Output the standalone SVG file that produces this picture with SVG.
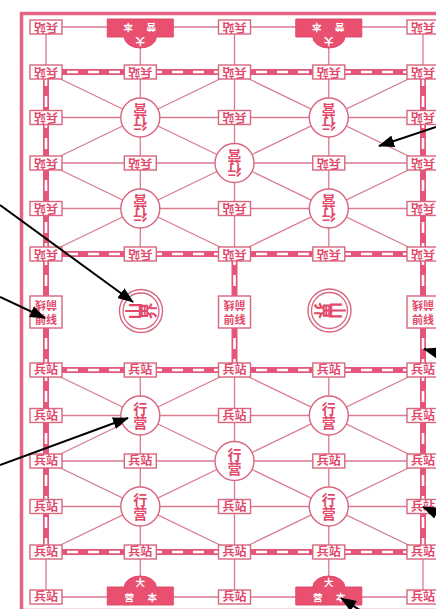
<svg xmlns="http://www.w3.org/2000/svg" width="436" height="609" viewBox="0 0 436 609">
<style>
.ln{stroke:#d97b8f;stroke-width:1.3;fill:none}
.rail{stroke:#e5557a;stroke-width:6;fill:none}
.railw{stroke:#fff;stroke-width:2.6;stroke-dasharray:11 10;fill:none}
.box{fill:#fff;stroke:#d9667f;stroke-width:1.4}
.t{fill:#e2486a;font-family:"Noto Sans CJK SC","Noto Sans CJK JP",sans-serif;font-weight:700;text-anchor:middle}
.tw{fill:#fff;font-family:"Noto Sans CJK SC","Noto Sans CJK JP",sans-serif;font-weight:700;text-anchor:middle;font-size:9.5px}
.dbk{fill:#e9506f;stroke:#e14a6a;stroke-width:1}
.arr{stroke:#000;stroke-width:2;fill:none}
</style>
<defs>
<g id="bz"><rect class="box" x="-16" y="-7" width="32" height="14"/><text class="t" x="0" y="4.3" font-size="12">兵站</text></g>
<g id="xy"><circle class="box" r="19.5"/><text class="t" x="0" y="-1.5" font-size="14">行</text><text class="t" x="0" y="12.5" font-size="14">营</text></g>
<g id="dbky"><path class="dbk" d="M-33 8V-10H-16A16 11 0 0 1 16 -10H33V8Z"/><text class="tw" x="0" y="-11">大</text><text class="tw" x="-11" y="3.5">营</text><text class="tw" x="12" y="3.5">本</text></g>
<g id="qx"><rect class="box" x="-16" y="-16" width="32" height="32"/><text class="t" x="0" y="11.5" font-size="11">前线</text><text class="t" x="0" y="11.5" font-size="11" transform="rotate(180)">前线</text></g>
<marker id="ah" viewBox="0 0 16 12" refX="15" refY="6" markerWidth="16" markerHeight="12" markerUnits="userSpaceOnUse" orient="auto"><path d="M0 0L16 6L0 12Z" fill="#000"/></marker>
</defs>
<rect width="436" height="609" fill="#fff"/>
<rect x="21.5" y="13.5" width="440" height="597" fill="none" stroke="#e36583" stroke-width="3.5"/>
<g id="connectors">
<path class="ln" d="M46 415.5H423M46 461H423M46 506.5H423M46 597H423M140.3 370V597M234.5 370V597M328.8 370V597M46 552V597M423 552V597M46 370L423 552M423 370L46 552M234.5 370L46 461M234.5 370L423 461M46 461L234.5 552M423 461L234.5 552"/>
<path class="ln" d="M46 208.5H423M46 163H423M46 117.5H423M46 27H423M140.3 254V27M234.5 254V27M328.8 254V27M46 72V27M423 72V27M46 254L423 72M423 254L46 72M234.5 254L46 163M234.5 254L423 163M46 163L234.5 72M423 163L234.5 72"/>
<path class="rail" d="M46 370H423M46 552H423M46 370V552M423 370V552M46 254H423M46 72H423M46 254V72M423 254V72M46 254V370M234.5 254V370M423 254V370"/>
<path class="railw" d="M46 370H423M46 552H423M46 370V552M423 370V552M46 254H423M46 72H423M46 254V72M423 254V72M46 254V370M234.5 254V370M423 254V370"/>
</g>
<g id="nodes">
<g id="l0-0" transform="translate(46 370)"><use href="#bz"/></g>
<g id="l0-1" transform="translate(140.3 370)"><use href="#bz"/></g>
<g id="l0-2" transform="translate(234.5 370)"><use href="#bz"/></g>
<g id="l0-3" transform="translate(328.8 370)"><use href="#bz"/></g>
<g id="l0-4" transform="translate(423 370)"><use href="#bz"/></g>
<g id="l1-0" transform="translate(46 415.5)"><use href="#bz"/></g>
<g id="l1-1" transform="translate(140.3 415.5)"><use href="#xy"/></g>
<g id="l1-2" transform="translate(234.5 415.5)"><use href="#bz"/></g>
<g id="l1-3" transform="translate(328.8 415.5)"><use href="#xy"/></g>
<g id="l1-4" transform="translate(423 415.5)"><use href="#bz"/></g>
<g id="l2-0" transform="translate(46 461)"><use href="#bz"/></g>
<g id="l2-1" transform="translate(140.3 461)"><use href="#bz"/></g>
<g id="l2-2" transform="translate(234.5 461)"><use href="#xy"/></g>
<g id="l2-3" transform="translate(328.8 461)"><use href="#bz"/></g>
<g id="l2-4" transform="translate(423 461)"><use href="#bz"/></g>
<g id="l3-0" transform="translate(46 506.5)"><use href="#bz"/></g>
<g id="l3-1" transform="translate(140.3 506.5)"><use href="#xy"/></g>
<g id="l3-2" transform="translate(234.5 506.5)"><use href="#bz"/></g>
<g id="l3-3" transform="translate(328.8 506.5)"><use href="#xy"/></g>
<g id="l3-4" transform="translate(423 506.5)"><use href="#bz"/></g>
<g id="l4-0" transform="translate(46 552)"><use href="#bz"/></g>
<g id="l4-1" transform="translate(140.3 552)"><use href="#bz"/></g>
<g id="l4-2" transform="translate(234.5 552)"><use href="#bz"/></g>
<g id="l4-3" transform="translate(328.8 552)"><use href="#bz"/></g>
<g id="l4-4" transform="translate(423 552)"><use href="#bz"/></g>
<g id="l5-0" transform="translate(46 597)"><use href="#bz"/></g>
<g id="l5-1" transform="translate(140.3 597)"><use href="#dbky"/></g>
<g id="l5-2" transform="translate(234.5 597)"><use href="#bz"/></g>
<g id="l5-3" transform="translate(328.8 597)"><use href="#dbky"/></g>
<g id="l5-4" transform="translate(423 597)"><use href="#bz"/></g>
<g id="u0-0" transform="translate(46 254) rotate(180)"><use href="#bz"/></g>
<g id="u0-1" transform="translate(140.3 254) rotate(180)"><use href="#bz"/></g>
<g id="u0-2" transform="translate(234.5 254) rotate(180)"><use href="#bz"/></g>
<g id="u0-3" transform="translate(328.8 254) rotate(180)"><use href="#bz"/></g>
<g id="u0-4" transform="translate(423 254) rotate(180)"><use href="#bz"/></g>
<g id="u1-0" transform="translate(46 208.5) rotate(180)"><use href="#bz"/></g>
<g id="u1-1" transform="translate(140.3 208.5) rotate(180)"><use href="#xy"/></g>
<g id="u1-2" transform="translate(234.5 208.5) rotate(180)"><use href="#bz"/></g>
<g id="u1-3" transform="translate(328.8 208.5) rotate(180)"><use href="#xy"/></g>
<g id="u1-4" transform="translate(423 208.5) rotate(180)"><use href="#bz"/></g>
<g id="u2-0" transform="translate(46 163) rotate(180)"><use href="#bz"/></g>
<g id="u2-1" transform="translate(140.3 163) rotate(180)"><use href="#bz"/></g>
<g id="u2-2" transform="translate(234.5 163) rotate(180)"><use href="#xy"/></g>
<g id="u2-3" transform="translate(328.8 163) rotate(180)"><use href="#bz"/></g>
<g id="u2-4" transform="translate(423 163) rotate(180)"><use href="#bz"/></g>
<g id="u3-0" transform="translate(46 117.5) rotate(180)"><use href="#bz"/></g>
<g id="u3-1" transform="translate(140.3 117.5) rotate(180)"><use href="#xy"/></g>
<g id="u3-2" transform="translate(234.5 117.5) rotate(180)"><use href="#bz"/></g>
<g id="u3-3" transform="translate(328.8 117.5) rotate(180)"><use href="#xy"/></g>
<g id="u3-4" transform="translate(423 117.5) rotate(180)"><use href="#bz"/></g>
<g id="u4-0" transform="translate(46 72) rotate(180)"><use href="#bz"/></g>
<g id="u4-1" transform="translate(140.3 72) rotate(180)"><use href="#bz"/></g>
<g id="u4-2" transform="translate(234.5 72) rotate(180)"><use href="#bz"/></g>
<g id="u4-3" transform="translate(328.8 72) rotate(180)"><use href="#bz"/></g>
<g id="u4-4" transform="translate(423 72) rotate(180)"><use href="#bz"/></g>
<g id="u5-0" transform="translate(46 27) rotate(180)"><use href="#bz"/></g>
<g id="u5-1" transform="translate(140.3 27) rotate(180)"><use href="#dbky"/></g>
<g id="u5-2" transform="translate(234.5 27) rotate(180)"><use href="#bz"/></g>
<g id="u5-3" transform="translate(328.8 27) rotate(180)"><use href="#dbky"/></g>
<g id="u5-4" transform="translate(423 27) rotate(180)"><use href="#bz"/></g>
<g id="qx-0" transform="translate(46 312)"><use href="#qx"/></g>
<g id="qx-2" transform="translate(234.5 312)"><use href="#qx"/></g>
<g id="qx-4" transform="translate(423 312)"><use href="#qx"/></g>
<g id="sj-1" transform="translate(141 311)"><circle class="box" r="21.5"/><circle fill="none" stroke="#d9667f" stroke-width="1.3" r="18"/><text class="t" font-size="17" transform="translate(-7.5 0) rotate(-90)" y="6.3">山</text><text class="t" font-size="17" transform="translate(7.5 0) rotate(-90)" y="6.3">界</text></g>
<g id="sj-3" transform="translate(329.5 310.5)"><circle class="box" r="21.5"/><circle fill="none" stroke="#d9667f" stroke-width="1.3" r="18"/><text class="t" font-size="17" transform="translate(-7.5 0) rotate(90)" y="6.3">界</text><text class="t" font-size="17" transform="translate(7.5 0) rotate(90)" y="6.3">山</text></g>
</g>
<g id="annotations">
<path class="arr" marker-end="url(#ah)" d="M0 205L133 302"/>
<path class="arr" marker-end="url(#ah)" d="M0 297L45 318"/>
<path class="arr" marker-end="url(#ah)" d="M0 465L128 418"/>
<path class="arr" marker-end="url(#ah)" d="M436 127L379 146"/>
<path class="arr" marker-end="url(#ah)" d="M452 357L424 349"/>
<path class="arr" marker-end="url(#ah)" d="M450 519L423 507"/>
<path class="arr" marker-end="url(#ah)" d="M366 614L341 598"/>
</g>
</svg>
